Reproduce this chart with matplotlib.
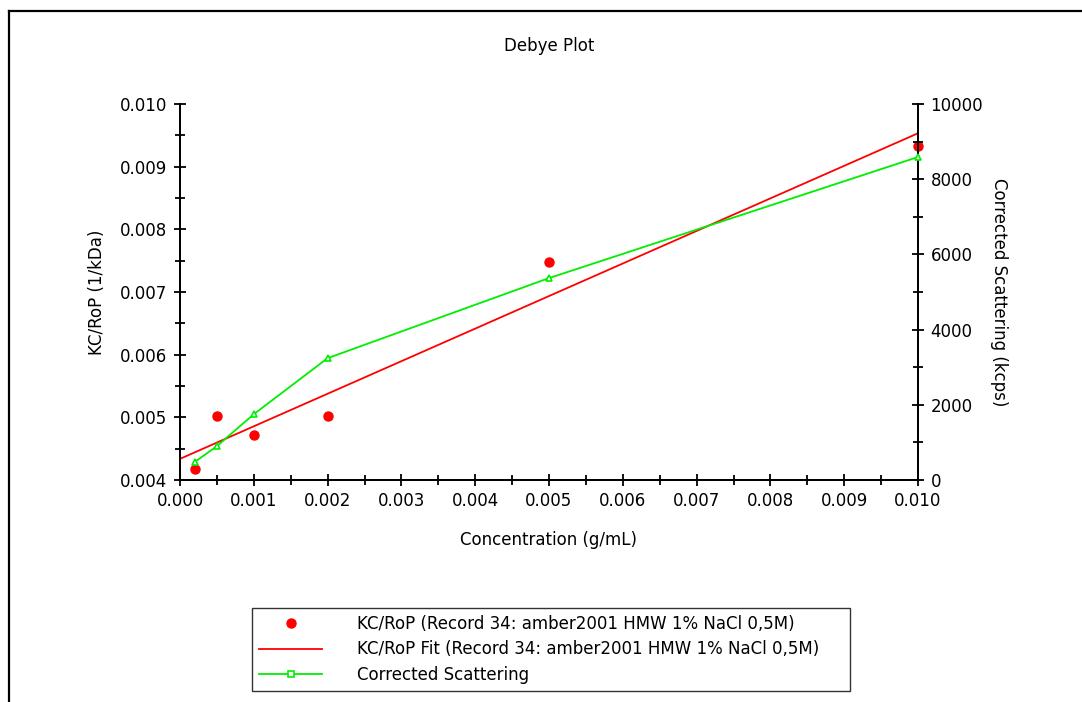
import numpy as np
import matplotlib
matplotlib.use("Agg")
import matplotlib.pyplot as plt
from matplotlib.ticker import MultipleLocator, FormatStrFormatter
from matplotlib.lines import Line2D

plt.rcParams['font.family'] = ['DejaVu Sans']

# Concentrations (g/mL)
conc = [0.0002, 0.0005, 0.001, 0.002, 0.005, 0.010]
# KC/RoP (1/kDa)
kc_rop = [0.00417, 0.00502, 0.00472, 0.00502, 0.00748, 0.00933]
# Corrected scattering (kcps)
scatter_kcps = [480, 900, 1750, 3240, 5370, 8590]

title = "Debye Plot"
xlabel = "Concentration (g/mL)"
ylabel_left = "KC/RoP (1/kDa)"
ylabel_right = "Corrected Scattering (kcps)"
label_pts = "KC/RoP (Record 34: amber2001 HMW 1% NaCl 0,5M)"
label_fit = "KC/RoP Fit (Record 34: amber2001 HMW 1% NaCl 0,5M)"
label_scat = "Corrected Scattering"

# linear least-squares fit of KC/RoP vs concentration
slope, intercept = np.polyfit(conc, kc_rop, 1)
fit_x = np.array([0.0, 0.010])
fit_y = slope * fit_x + intercept

W, H = 1082, 702
FS = 12
fig = plt.figure(figsize=(W / 100, H / 100), dpi=100)
fig.patch.set_facecolor("white")

# window-style frame along the top and left edges
fig.add_artist(Line2D([9 / W, 1.0], [1 - 11 / H, 1 - 11 / H], color="black", lw=1.6,
                      transform=fig.transFigure))
fig.add_artist(Line2D([9 / W, 9 / W], [0.0, 1 - 11 / H], color="black", lw=1.6,
                      transform=fig.transFigure))

ax = fig.add_axes([180 / W, 1 - 480 / H, (918 - 180) / W, (480 - 104) / H])
ax2 = ax.twinx()

red = "#ff0000"
green = "#00ee00"

ax.plot(fit_x, fit_y, color=red, lw=1.3, zorder=2)
ax.plot(conc, kc_rop, "o", color=red, ms=6.5, zorder=4, clip_on=False)
ax2.plot(conc, scatter_kcps, "-^", color=green, lw=1.3, ms=4.5,
         mfc="white", mec=green, mew=1.2, zorder=3, clip_on=False)

ax.set_xlim(0, 0.010)
ax.set_ylim(0.004, 0.010)
ax2.set_ylim(0, 10000)

for a in (ax, ax2):
    a.spines["top"].set_visible(False)
    a.patch.set_visible(False)
    for s in ("left", "right", "bottom"):
        a.spines[s].set_linewidth(1.4)

ax.xaxis.set_major_locator(MultipleLocator(0.001))
ax.xaxis.set_minor_locator(MultipleLocator(0.0005))
ax.yaxis.set_major_locator(MultipleLocator(0.001))
ax.yaxis.set_minor_locator(MultipleLocator(0.0005))
ax2.yaxis.set_major_locator(MultipleLocator(2000))
ax2.yaxis.set_minor_locator(MultipleLocator(1000))
ax.xaxis.set_major_formatter(FormatStrFormatter("%.3f"))
ax.yaxis.set_major_formatter(FormatStrFormatter("%.3f"))
ax2.yaxis.set_major_formatter(FormatStrFormatter("%d"))

ax.tick_params(axis="both", which="major", direction="inout", length=8, width=1.3,
               labelsize=FS, pad=5)
ax.tick_params(axis="both", which="minor", direction="inout", length=7, width=1.3)
ax2.tick_params(axis="y", which="major", direction="inout", length=8, width=1.3,
                labelsize=FS, pad=5)
ax2.tick_params(axis="y", which="minor", direction="inout", length=7, width=1.3)

ax.set_title(title, fontsize=FS, pad=38)
ax.set_xlabel(xlabel, fontsize=FS, labelpad=15)
ax.set_ylabel(ylabel_left, fontsize=FS, labelpad=10)
ax2.set_ylabel(ylabel_right, fontsize=FS, rotation=-90, labelpad=18)

handles = [
    Line2D([], [], ls="none", marker="o", color=red, ms=6.5),
    Line2D([], [], color=red, lw=1.3),
    Line2D([], [], color=green, lw=1.3, marker="s", ms=4, mfc="white", mec=green, mew=1.2),
]
leg = fig.legend(handles, [label_pts, label_fit, label_scat],
                 loc="upper left",
                 bbox_to_anchor=(252 / W, 1 - 608 / H, (850 - 252) / W, 0.0),
                 mode="expand", fontsize=FS, frameon=True, fancybox=False,
                 edgecolor="black", handlelength=3.8, handletextpad=2.1,
                 labelspacing=0.45, borderpad=0.42, borderaxespad=0.0)
leg.get_frame().set_linewidth(1.0)

fig.savefig("out.png", dpi=100, facecolor="white")
